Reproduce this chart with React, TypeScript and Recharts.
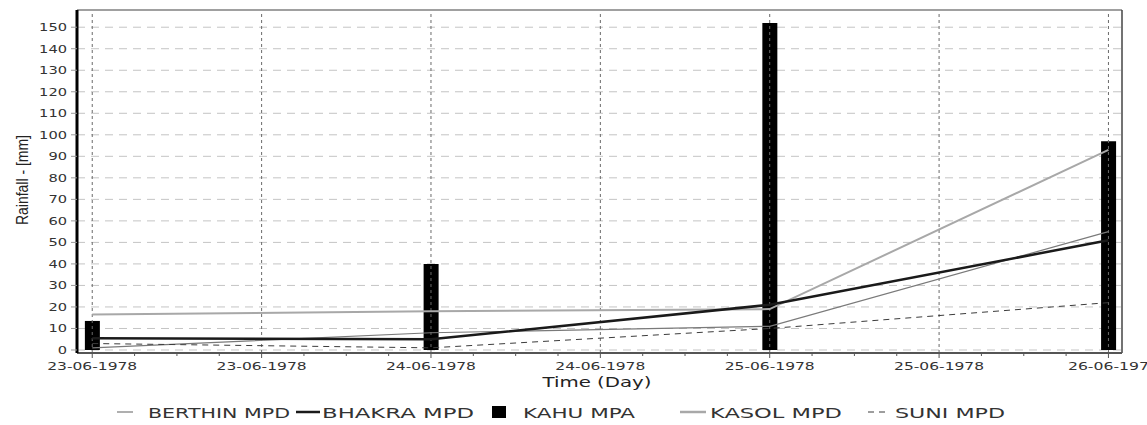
import React from "react";
import {
  ComposedChart,
  Bar,
  Line,
  XAxis,
  YAxis,
  CartesianGrid,
  ReferenceLine,
} from "recharts";

// ---- data ----
const DAYS = [0, 1, 2, 3]; // day offsets from 23-06-1978
const KAHU_MPA = [13.5, 40, 152, 97];
const BERTHIN_MPD = [1, 8, 11, 55];
const BHAKRA_MPD = [5.5, 5, 21, 51];
const KASOL_MPD = [16.5, 18, 19, 93];
const SUNI_MPD = [3, 1, 10, 22];

const X_TICK_LABELS = [
  "23-06-1978",
  "23-06-1978",
  "24-06-1978",
  "24-06-1978",
  "25-06-1978",
  "25-06-1978",
  "26-06-197",
];
const X_MAJOR = [0, 0.5, 1, 1.5, 2, 2.5, 3];
const X_ALL_TICKS = Array.from({ length: 25 }, (_, i) => i / 8);
const Y_TICKS = [0, 10, 20, 30, 40, 50, 60, 70, 80, 90, 100, 110, 120, 130, 140, 150];
const X_DOMAIN = [-0.045, 3.04];
const Y_DOMAIN = [-1.4, 158];

const SERIES_NAMES = ["BERTHIN MPD", "BHAKRA MPD", "KAHU MPA", "KASOL MPD", "SUNI MPD"];

const data = DAYS.map((t, i) => ({
  t,
  kahu: KAHU_MPA[i],
  berthin: BERTHIN_MPD[i],
  bhakra: BHAKRA_MPD[i],
  kasol: KASOL_MPD[i],
  suni: SUNI_MPD[i],
}));

const FONT = "'DejaVu Sans', sans-serif";

const XTick = (props: any) => {
  const { x, y, payload } = props;
  const v = payload.value;
  const major = Math.abs(v * 2 - Math.round(v * 2)) < 1e-6;
  const label = major ? X_TICK_LABELS[Math.round(v * 2)] : "";
  return (
    <g>
      <line x1={x} x2={x} y1={y} y2={y + (major ? 5 : 3)} stroke="#555" strokeWidth={1} />
      {major && (
        <text
          x={x}
          y={y + 17}
          textAnchor="middle"
          fontFamily={FONT}
          fontSize={11}
          fill="#333"
          textLength={label.length * 9}
          lengthAdjust="spacingAndGlyphs"
        >
          {label}
        </text>
      )}
    </g>
  );
};

const YTick = (props: any) => {
  const { x, y, payload } = props;
  const label = String(payload.value);
  return (
    <text
      x={x - 2}
      y={y + 4}
      textAnchor="end"
      fontFamily={FONT}
      fontSize={11}
      fill="#333"
      textLength={label.length * 9.3}
      lengthAdjust="spacingAndGlyphs"
    >
      {label}
    </text>
  );
};

const LEGEND_STYLE = [
  { kind: "line", iconX: 117, iconW: 16, stroke: "#7a7a7a", sw: 1.2, textX: 148, textW: 142 },
  { kind: "line", iconX: 296, iconW: 24, stroke: "#1a1a1a", sw: 2.5, textX: 322, textW: 152 },
  { kind: "square", iconX: 492, iconW: 14, stroke: "#000", sw: 0, textX: 523, textW: 112 },
  { kind: "line", iconX: 680, iconW: 26, stroke: "#a8a8a8", sw: 2.5, textX: 710, textW: 132 },
  { kind: "dash", iconX: 868, iconW: 22, stroke: "#3c3c3c", sw: 1, textX: 895, textW: 110 },
];

export default function App() {
  return (
    <div
      style={{
        position: "absolute",
        left: 0,
        top: 0,
        width: 1147,
        height: 425,
        background: "#fff",
      }}
    >
      <ComposedChart
        width={1147}
        height={425}
        data={data}
        margin={{ top: 10, right: 25, bottom: 42, left: 0 }}
      >
        <CartesianGrid
          vertical={false}
          stroke="#c4c4c4"
          strokeDasharray="8 6"
          strokeWidth={1}
        />
        {X_MAJOR.map((v) => (
          <ReferenceLine
            key={"vx" + v}
            x={v}
            stroke="#6a6a6a"
            strokeDasharray="3 3"
            strokeWidth={1}
          />
        ))}
        <ReferenceLine y={Y_DOMAIN[1]} stroke="#a0a0a0" strokeWidth={2} />
        <ReferenceLine x={X_DOMAIN[1]} stroke="#444" strokeWidth={1.5} />
        <XAxis
          dataKey="t"
          type="number"
          domain={X_DOMAIN}
          ticks={X_ALL_TICKS}
          interval={0}
          allowDataOverflow
          height={30}
          tickSize={0}
          tickMargin={0}
          tickLine={false}
          axisLine={{ stroke: "#555", strokeWidth: 2 }}
          tick={<XTick />}
        />
        <YAxis
          type="number"
          domain={Y_DOMAIN}
          ticks={Y_TICKS}
          interval={0}
          allowDataOverflow
          width={77}
          tickSize={6}
          tickMargin={2}
          tickLine={{ stroke: "#999" }}
          axisLine={{ stroke: "#000", strokeWidth: 3 }}
          tick={<YTick />}
        />
        <Bar dataKey="kahu" name={SERIES_NAMES[2]} fill="#000" barSize={15} isAnimationActive={false} />
        <Line
          type="linear"
          dataKey="kasol"
          name={SERIES_NAMES[3]}
          stroke="#a8a8a8"
          strokeWidth={2}
          dot={false}
          isAnimationActive={false}
        />
        <Line
          type="linear"
          dataKey="berthin"
          name={SERIES_NAMES[0]}
          stroke="#7a7a7a"
          strokeWidth={1.2}
          dot={false}
          isAnimationActive={false}
        />
        <Line
          type="linear"
          dataKey="suni"
          name={SERIES_NAMES[4]}
          stroke="#3c3c3c"
          strokeWidth={1}
          strokeDasharray="6 5"
          dot={false}
          isAnimationActive={false}
        />
        <Line
          type="linear"
          dataKey="bhakra"
          name={SERIES_NAMES[1]}
          stroke="#1a1a1a"
          strokeWidth={2.5}
          dot={false}
          isAnimationActive={false}
        />
      </ComposedChart>
      <svg
        width={1147}
        height={425}
        style={{ position: "absolute", left: 0, top: 0, pointerEvents: "none" }}
      >
        <text
          x={597}
          y={387}
          textAnchor="middle"
          fontFamily={FONT}
          fontSize={14}
          fill="#222"
          textLength={109}
          lengthAdjust="spacingAndGlyphs"
        >
          Time (Day)
        </text>
        <text
          transform="translate(28,180) rotate(-90)"
          textAnchor="middle"
          fontFamily="'Liberation Sans Narrow', 'Liberation Sans', sans-serif"
          fontSize={17}
          fill="#222"
          textLength={90}
          lengthAdjust="spacingAndGlyphs"
        >
          Rainfall - [mm]
        </text>
        {SERIES_NAMES.map((name, i) => {
          const s = LEGEND_STYLE[i];
          const cy = 412;
          return (
            <g key={name}>
              {s.kind === "square" ? (
                <rect x={s.iconX} y={cy - 6} width={s.iconW} height={12} fill={s.stroke} />
              ) : (
                <line
                  x1={s.iconX}
                  x2={s.iconX + s.iconW}
                  y1={cy}
                  y2={cy}
                  stroke={s.stroke}
                  strokeWidth={s.sw}
                  strokeDasharray={s.kind === "dash" ? "6 5" : undefined}
                />
              )}
              <text
                x={s.textX}
                y={cy + 6}
                fontFamily={FONT}
                fontSize={14}
                fill="#333"
                textLength={s.textW}
                lengthAdjust="spacingAndGlyphs"
              >
                {name}
              </text>
            </g>
          );
        })}
      </svg>
    </div>
  );
}
